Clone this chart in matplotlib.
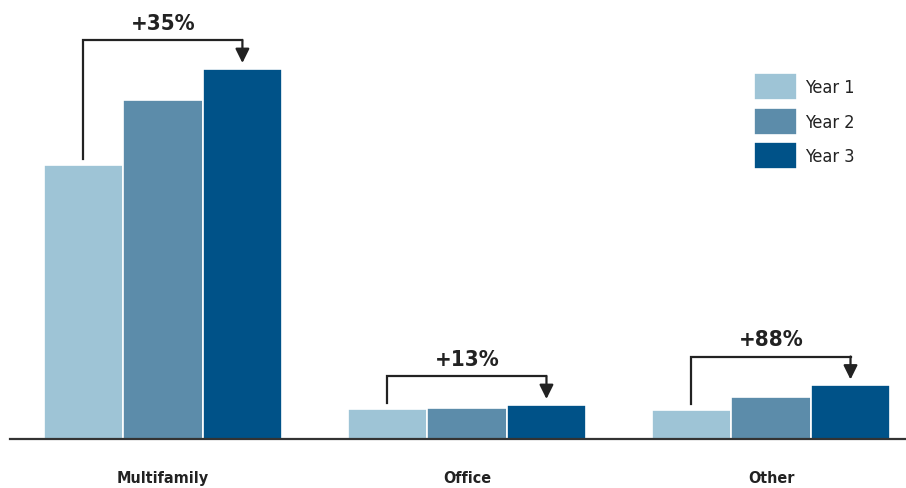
import numpy as np
import matplotlib
matplotlib.use("Agg")
import matplotlib.pyplot as plt

categories = ["Multifamily", "Office", "Other"]
series_names = ["Year 1", "Year 2", "Year 3"]
year1 = [27.4, 3.0, 2.85]
year2 = [33.9, 3.1, 4.15]
year3 = [37.0, 3.4, 5.35]
growth_labels = ["+35%", "+13%", "+88%"]

colors = ["#9ec4d6", "#5c8caa", "#005288"]
ink = "#222222"

plt.rcParams["font.family"] = ["DejaVu Sans"]
plt.rcParams["font.stretch"] = "condensed"

fig = plt.figure(figsize=(9.06, 4.89), dpi=100)
ax = fig.add_axes([0.011, 0.1012, 0.989, 0.8988])

x = np.arange(len(categories))
width = 0.2615
for k, vals in enumerate([year1, year2, year3]):
    ax.bar(x + (k - 1) * width, vals, width, color=colors[k],
           edgecolor="white", linewidth=1.2, label=series_names[k], zorder=2)

# growth brackets from year 1 to year 3
for i in range(len(categories)):
    x0 = x[i] - width
    x1 = x[i] + width
    top = year3[i] + 2.85
    ax.plot([x0, x0, x1], [year1[i] + 0.6, top, top], color=ink, lw=1.6,
            solid_joinstyle="miter", zorder=3)
    ax.annotate("", xy=(x1, year3[i] + 0.55), xytext=(x1, top),
                arrowprops=dict(arrowstyle="-|>,head_length=0.85,head_width=0.42",
                                color=ink, lw=1.6, shrinkA=0, shrinkB=0))
    ax.text(x[i], top + 1.75, growth_labels[i], ha="center", va="center",
            fontsize=16, fontweight="bold", fontstretch="condensed", color=ink)

ax.set_xlim(-0.503, 2.444)
ax.set_ylim(0, 43.95)
ax.set_xticks(x)
ax.set_xticklabels(categories, fontsize=11.5, fontweight="bold",
                   fontstretch="condensed", color=ink)
ax.tick_params(axis="x", length=0, pad=23)
ax.set_yticks([])
for side in ["top", "right", "left"]:
    ax.spines[side].set_visible(False)
ax.spines["bottom"].set_color("#333333")
ax.spines["bottom"].set_linewidth(1.6)

ax.legend(loc="upper left", bbox_to_anchor=(0.8322, 0.8487),
          bbox_transform=fig.transFigure, frameon=False,
          prop={"size": 13, "stretch": "condensed"},
          handlelength=2.4, handleheight=1.95, labelspacing=0.4,
          handletextpad=0.45, borderpad=0, borderaxespad=0,
          labelcolor=ink)

fig.savefig("out.png", dpi=100)
